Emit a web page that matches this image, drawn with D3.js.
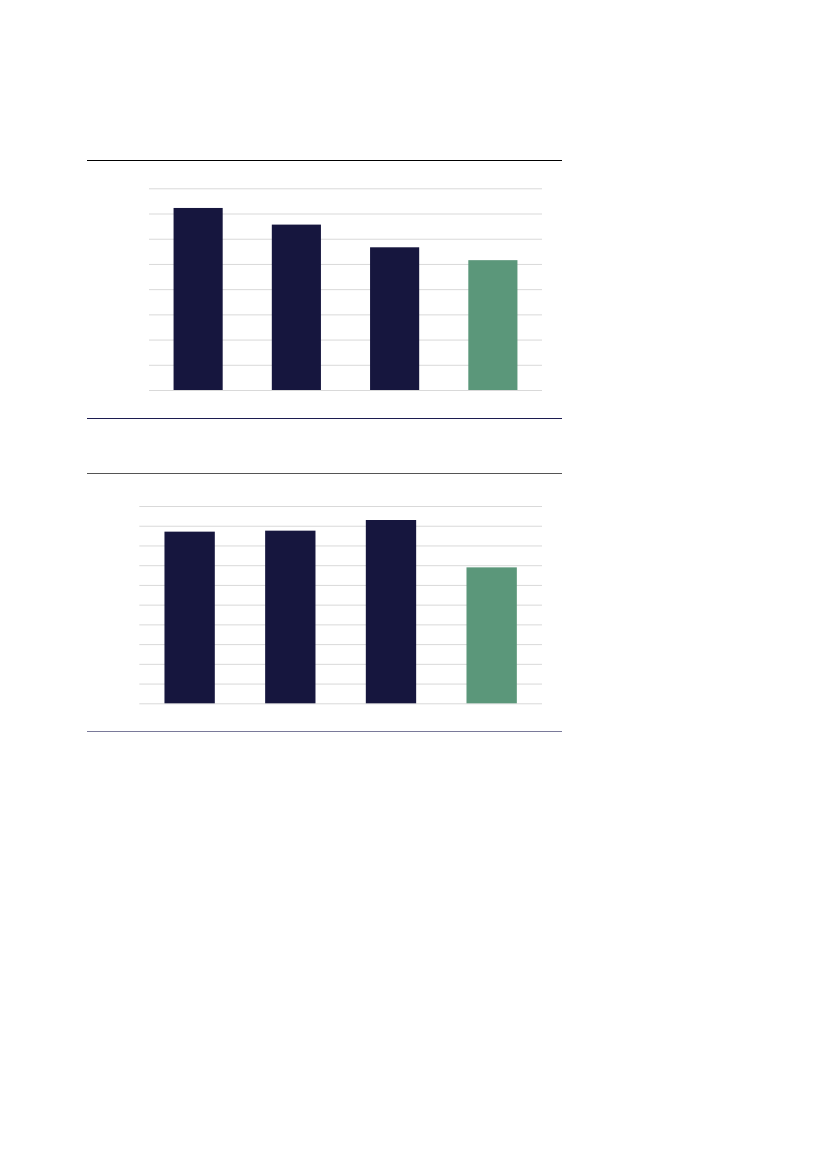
<!DOCTYPE html>
<html>
<head>
<meta charset="utf-8">
<script src="https://cdn.jsdelivr.net/npm/d3@7"></script>
<style>
  body { margin: 0; background: #fff; font-family: "Liberation Sans", Arial, sans-serif; }
</style>
</head>
<body>
<div id="chart"></div>
<script>
// Chart 1 (upper panel): four bars, last one highlighted
const categories1 = ['A', 'B', 'C', 'D'];
const values1 = [7.22, 6.56, 5.66, 5.15];
const gridTicks1 = [0, 1, 2, 3, 4, 5, 6, 7, 8];

// Chart 2 (lower panel)
const categories2 = ['A', 'B', 'C', 'D'];
const values2 = [8.7, 8.75, 9.29, 6.89];
const gridTicks2 = [0, 1, 2, 3, 4, 5, 6, 7, 8, 9, 10];

const navy = '#16163e';
const green = '#5b977a';

const svg = d3.select('#chart')
    .append('svg')
    .attr('width', 827)
    .attr('height', 1169);

function drawPanel(opts) {
    const g = svg.append('g');

    // Horizontal rules framing the panel
    g.append('line')
        .attr('x1', 87).attr('x2', 562)
        .attr('y1', opts.topRule).attr('y2', opts.topRule)
        .attr('stroke', opts.topColor)
        .attr('stroke-width', 1)
        .attr('shape-rendering', 'crispEdges');
    g.append('line')
        .attr('x1', 87).attr('x2', 562)
        .attr('y1', opts.bottomRule).attr('y2', opts.bottomRule)
        .attr('stroke', opts.bottomColor)
        .attr('stroke-width', 1)
        .attr('shape-rendering', 'crispEdges');

    const x = d3.scaleBand()
        .domain(opts.categories)
        .range([opts.left, opts.right])
        .paddingInner(0.5)
        .paddingOuter(0.25);

    const y = d3.scaleLinear()
        .domain([0, d3.max(opts.ticks)])
        .range([opts.bottom, opts.top]);

    // Gridlines via axis
    const axis = d3.axisLeft(y)
        .tickValues(opts.ticks)
        .tickSize(-(opts.right - opts.left))
        .tickFormat('');

    const ga = g.append('g')
        .attr('transform', `translate(${opts.left},0)`)
        .call(axis);
    ga.select('.domain').remove();
    ga.selectAll('.tick line')
        .attr('stroke', '#d9d9d9')
        .attr('stroke-width', 1);

    // Bars
    g.selectAll('rect.bar')
        .data(opts.values)
        .join('rect')
        .attr('class', 'bar')
        .attr('x', (d, i) => x(opts.categories[i]))
        .attr('width', x.bandwidth())
        .attr('y', d => y(d))
        .attr('height', d => y(0) - y(d))
        .attr('fill', (d, i) => i === opts.values.length - 1 ? green : navy);
}

drawPanel({
    categories: categories1,
    values: values1,
    ticks: gridTicks1,
    left: 149, right: 542,
    top: 188.3, bottom: 390,
    topRule: 160.5, bottomRule: 418.5,
    topColor: '#000000', bottomColor: '#1c1c50'
});

drawPanel({
    categories: categories2,
    values: values2,
    ticks: gridTicks2,
    left: 139.3, right: 542,
    top: 506, bottom: 703.3,
    topRule: 473.5, bottomRule: 731.5,
    topColor: '#555555', bottomColor: '#7a7a9a'
});
</script>
</body>
</html>
